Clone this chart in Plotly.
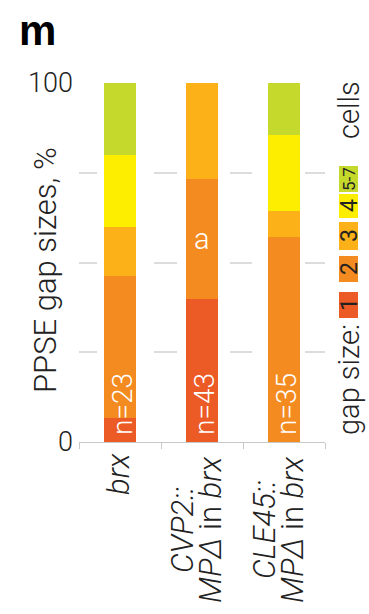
import plotly.graph_objects as go

# ---- data -------------------------------------------------------------
genotypes = ["brx", "CVP2::MPΔ in brx", "CLE45::MPΔ in brx"]
label_lines = [
    ["<i>brx</i>"],
    ["<i>CVP2::</i>", "<i>MPΔ</i> in <i>brx</i>"],
    ["<i>CLE45::</i>", "<i>MPΔ</i> in <i>brx</i>"],
]
gap_sizes = ["1", "2", "3", "4", "5-7"]
share_gap1 = [6.7, 39.7, 0.0]
share_gap2 = [39.6, 33.5, 57.1]
share_gap3 = [13.5, 26.8, 7.2]
share_gap4 = [20.2, 0.0, 21.2]
share_gap57 = [20.0, 0.0, 14.5]
sample_sizes = [23, 43, 35]
group_letters = ["", "a", ""]
y_tick_vals = [0, 25, 50, 75, 100]
y_tick_text = ["0", "", "", "", "100"]

colors = ["#ec5a25", "#f38b21", "#fbb117", "#fdee00", "#c5d92d"]
FONT = "Roboto, Liberation Sans, Arial, sans-serif"
LIGHT = 300
TEXT = "#222222"
AXIS_GREY = "#c8c8c8"

# ---- geometry (pixels) ------------------------------------------------
W, H = 369, 614
L, R, T, B = 79, 44, 83, 172
PW, PH = W - L - R, H - T - B


def xp(px):
    return (px - L) / PW


def yp(py):
    return (H - B - py) / PH


def light(size, color=TEXT, weight=LIGHT):
    return dict(size=size, color=color, family=FONT, weight=weight)


fig = go.Figure()
series = [share_gap1, share_gap2, share_gap3, share_gap4, share_gap57]
for name, vals, col in zip(gap_sizes, series, colors):
    fig.add_trace(go.Bar(
        x=genotypes, y=vals, name=name,
        marker=dict(color=col, line=dict(width=0)),
        showlegend=False, hoverinfo="skip",
    ))

ann = []

# panel letter
ann.append(dict(text="<b>m</b>", xref="paper", yref="paper", x=xp(17), y=yp(30),
                xanchor="left", yanchor="middle", showarrow=False,
                font=dict(size=42, color="#000000", family="Liberation Sans, Arial")))

# y-axis title
ann.append(dict(text="PPSE gap sizes, %", xref="paper", yref="paper",
                x=xp(45), y=yp(270), xanchor="center", yanchor="middle",
                textangle=-90, showarrow=False, font=light(31)))

# category labels, one annotation per line
for i, lines in enumerate(label_lines):
    if len(lines) == 1:
        ann.append(dict(text=lines[0], xref="x", yref="paper", x=genotypes[i], y=0,
                        xanchor="center", yanchor="top", yshift=-9, xshift=-2,
                        textangle=-90, showarrow=False, font=light(31)))
    else:
        offsets = [-16, 12]
        for line, dx in zip(lines, offsets):
            ann.append(dict(text=line, xref="x", yref="paper", x=genotypes[i], y=0,
                            xanchor="center", yanchor="middle", yshift=-(530 - (H - B)),
                            xshift=dx - 4, textangle=-90, showarrow=False,
                            font=light(31)))

# sample sizes inside the bars
for g, n in zip(genotypes, sample_sizes):
    ann.append(dict(text=f"n={n}", xref="x", yref="y", x=g, y=0,
                    xanchor="center", yanchor="bottom", yshift=5, xshift=2,
                    textangle=-90, showarrow=False, font=light(28, "#ffffff")))

# statistical group letter
for g, letter, v1, v2 in zip(genotypes, group_letters, share_gap1, share_gap2):
    if letter:
        ann.append(dict(text=letter, xref="x", yref="y", x=g, y=v1 + v2 * 0.5,
                        xanchor="center", yanchor="middle", showarrow=False,
                        font=light(29, "#ffffff")))

# legend: rotated text with coloured key boxes
LEG_X = 349
ann.append(dict(text="gap size:", xref="paper", yref="paper", x=xp(LEG_X), y=yp(380),
                xanchor="center", yanchor="middle", textangle=-90, showarrow=False,
                font=light(29)))
ann.append(dict(text="cells", xref="paper", yref="paper", x=xp(LEG_X), y=yp(110),
                xanchor="center", yanchor="middle", textangle=-90, showarrow=False,
                font=light(29)))

key_spans = [(292, 318), (256, 282), (222, 250), (194, 218), (166, 192)]
shapes = []
for name, col, (top, bot) in zip(gap_sizes, colors, key_spans):
    shapes.append(dict(type="rect", xref="paper", yref="paper",
                       x0=xp(339), x1=xp(358), y0=yp(bot), y1=yp(top),
                       fillcolor=col, line=dict(width=0), layer="above"))
    ann.append(dict(text=name, xref="paper", yref="paper", x=xp(349),
                    y=yp((top + bot) / 2), xanchor="center", yanchor="middle",
                    textangle=-90, showarrow=False,
                    font=light(17 if len(name) > 1 else 23, weight=400)))

fig.update_layout(
    width=W, height=H,
    margin=dict(l=L, r=R, t=T, b=B, pad=0),
    barmode="stack", bargap=0.6,
    plot_bgcolor="white", paper_bgcolor="white",
    font=dict(family=FONT, color=TEXT),
    annotations=ann, shapes=shapes,
)
fig.update_xaxes(
    showticklabels=False, ticks="outside", tickson="boundaries", ticklen=6,
    tickcolor=AXIS_GREY, tickwidth=1, showline=True, linecolor=AXIS_GREY, linewidth=1,
    showgrid=False, zeroline=False, range=[-0.5, 2.5], fixedrange=True,
)
fig.update_yaxes(
    range=[0, 100], tickvals=y_tick_vals, ticktext=y_tick_text, ticks="",
    showline=False, zeroline=False, showgrid=True, gridcolor="#dcdcdc", gridwidth=1.5,
    griddash="18px,57px,23px,53px,22px,53px,20px,20px",
    tickfont=light(27), ticklabelstandoff=5,
    fixedrange=True,
)

fig.write_html("out.html")
